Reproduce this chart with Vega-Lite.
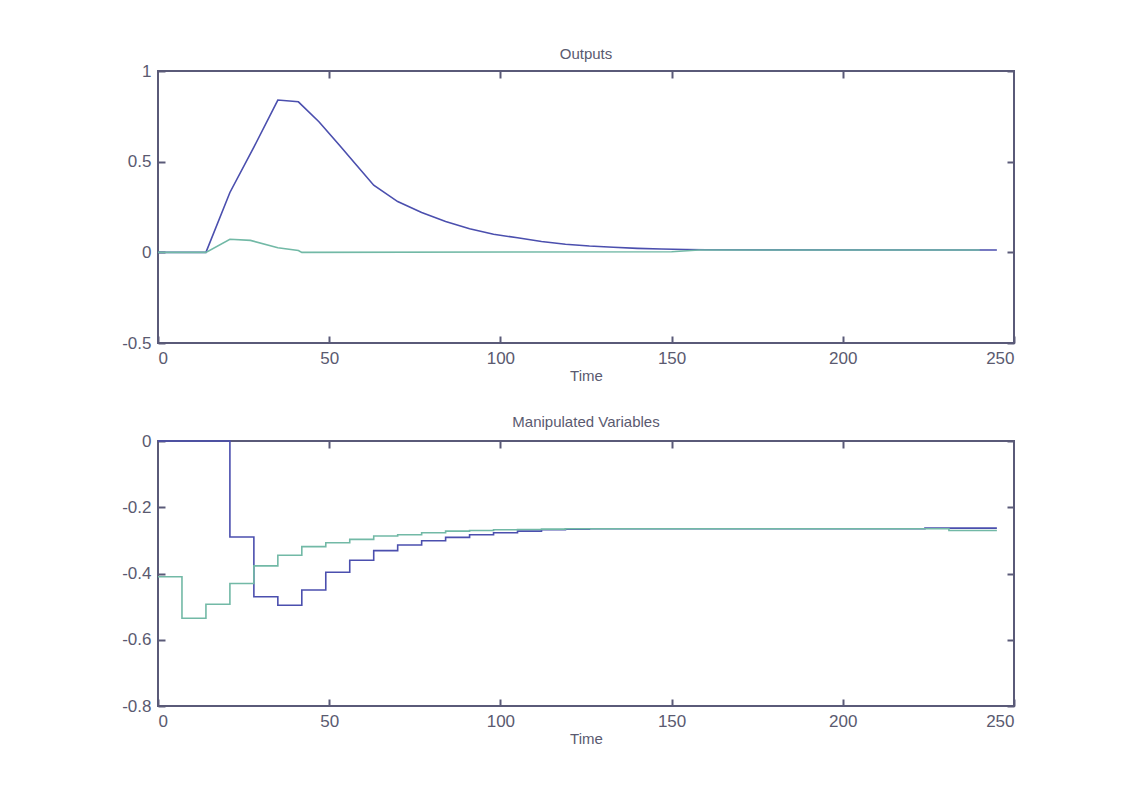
{
  "$schema": "https://vega.github.io/schema/vega-lite/v6.json",
  "background": "white",
  "padding": {"left": 120, "top": 46, "right": 20, "bottom": 20},
  "config": {
    "font": "Liberation Sans",
    "view": {"stroke": "#5a5a78", "strokeWidth": 2},
    "axis": {"grid": false, "domain": false, "tickColor": "#5a5a78", "tickWidth": 2, "tickSize": -7, "labelColor": "#5a5a70", "labelFontSize": 17, "labelPadding": 14, "titleColor": "#5a5a70", "titleFontSize": 15, "titleFontWeight": "normal"},
    "title": {"fontSize": 15, "fontWeight": "normal", "color": "#5a5a70"},
    "concat": {"spacing": 30}
  },
  "datasets": {
    "out": [
      {"s": "1", "t": 0, "v": 0}, {"s": "1", "t": 14, "v": 0}, {"s": "1", "t": 21, "v": 0.33}, {"s": "1", "t": 28, "v": 0.58}, {"s": "1", "t": 35, "v": 0.84}, {"s": "1", "t": 41, "v": 0.83}, {"s": "1", "t": 47, "v": 0.72}, {"s": "1", "t": 53, "v": 0.59}, {"s": "1", "t": 58, "v": 0.48}, {"s": "1", "t": 63, "v": 0.37}, {"s": "1", "t": 70, "v": 0.28}, {"s": "1", "t": 77, "v": 0.22}, {"s": "1", "t": 84, "v": 0.17}, {"s": "1", "t": 91, "v": 0.13}, {"s": "1", "t": 98, "v": 0.1}, {"s": "1", "t": 105, "v": 0.08}, {"s": "1", "t": 112, "v": 0.06}, {"s": "1", "t": 119, "v": 0.045}, {"s": "1", "t": 126, "v": 0.035}, {"s": "1", "t": 133, "v": 0.028}, {"s": "1", "t": 140, "v": 0.022}, {"s": "1", "t": 147, "v": 0.018}, {"s": "1", "t": 154, "v": 0.016}, {"s": "1", "t": 160, "v": 0.014}, {"s": "1", "t": 245, "v": 0.013},
      {"s": "2", "t": 0, "v": 0}, {"s": "2", "t": 14, "v": 0}, {"s": "2", "t": 21, "v": 0.072}, {"s": "2", "t": 27, "v": 0.066}, {"s": "2", "t": 35, "v": 0.025}, {"s": "2", "t": 41, "v": 0.01}, {"s": "2", "t": 42, "v": 0}, {"s": "2", "t": 150, "v": 0.003}, {"s": "2", "t": 158, "v": 0.013}, {"s": "2", "t": 240, "v": 0.013}
    ],
    "mv": [
      {"s": "1", "t": 0, "v": 0}, {"s": "1", "t": 21, "v": -0.29}, {"s": "1", "t": 28, "v": -0.47}, {"s": "1", "t": 35, "v": -0.496}, {"s": "1", "t": 42, "v": -0.45}, {"s": "1", "t": 49, "v": -0.396}, {"s": "1", "t": 56, "v": -0.36}, {"s": "1", "t": 63, "v": -0.331}, {"s": "1", "t": 70, "v": -0.314}, {"s": "1", "t": 77, "v": -0.301}, {"s": "1", "t": 84, "v": -0.291}, {"s": "1", "t": 91, "v": -0.283}, {"s": "1", "t": 98, "v": -0.277}, {"s": "1", "t": 105, "v": -0.272}, {"s": "1", "t": 112, "v": -0.268}, {"s": "1", "t": 119, "v": -0.266}, {"s": "1", "t": 126, "v": -0.265}, {"s": "1", "t": 224, "v": -0.263}, {"s": "1", "t": 245, "v": -0.263},
      {"s": "2", "t": 0, "v": -0.41}, {"s": "2", "t": 7, "v": -0.535}, {"s": "2", "t": 14, "v": -0.493}, {"s": "2", "t": 21, "v": -0.43}, {"s": "2", "t": 28, "v": -0.377}, {"s": "2", "t": 35, "v": -0.345}, {"s": "2", "t": 42, "v": -0.319}, {"s": "2", "t": 49, "v": -0.307}, {"s": "2", "t": 56, "v": -0.297}, {"s": "2", "t": 63, "v": -0.287}, {"s": "2", "t": 70, "v": -0.283}, {"s": "2", "t": 77, "v": -0.277}, {"s": "2", "t": 84, "v": -0.272}, {"s": "2", "t": 91, "v": -0.27}, {"s": "2", "t": 98, "v": -0.268}, {"s": "2", "t": 105, "v": -0.267}, {"s": "2", "t": 112, "v": -0.266}, {"s": "2", "t": 119, "v": -0.265}, {"s": "2", "t": 231, "v": -0.27}, {"s": "2", "t": 245, "v": -0.27}
    ]
  },
  "vconcat": [
    {
      "width": 856, "height": 272,
      "title": {"text": "Outputs", "offset": 0},
      "data": {"name": "out"},
      "layer": [
        {
          "mark": {"type": "line", "strokeWidth": 1.6},
          "encoding": {
            "x": {"field": "t", "type": "quantitative", "title": "Time", "scale": {"domain": [0, 250], "nice": false}, "axis": {"values": [0, 50, 100, 150, 200, 250], "titlePadding": 2}},
            "y": {"field": "v", "type": "quantitative", "title": null, "scale": {"domain": [-0.5, 1], "nice": false, "zero": false}, "axis": {"values": [-0.5, 0, 0.5, 1], "labelExpr": "datum.value + ''"}},
            "color": {"field": "s", "type": "nominal", "legend": null, "scale": {"domain": ["1", "2"], "range": ["#4b4fae", "#72b9a6"]}},
            "order": {"field": "t"}
          }
        },
        {
          "mark": {"type": "line", "opacity": 0},
          "encoding": {
            "x": {"field": "t", "type": "quantitative", "axis": {"orient": "top", "values": [50, 100, 150, 200], "labels": false, "title": null}},
            "y": {"field": "v", "type": "quantitative", "axis": {"orient": "right", "values": [-0.5, 0, 0.5, 1], "labels": false, "title": null}}
          }
        }
      ],
      "resolve": {"axis": {"x": "independent", "y": "independent"}}
    },
    {
      "width": 856, "height": 265,
      "title": {"text": "Manipulated Variables", "offset": 2},
      "data": {"name": "mv"},
      "layer": [
        {
          "mark": {"type": "line", "strokeWidth": 1.6, "interpolate": "step-after"},
          "encoding": {
            "x": {"field": "t", "type": "quantitative", "title": "Time", "scale": {"domain": [0, 250], "nice": false}, "axis": {"values": [0, 50, 100, 150, 200, 250], "titlePadding": 2}},
            "y": {"field": "v", "type": "quantitative", "title": null, "scale": {"domain": [-0.8, 0], "nice": false, "zero": false}, "axis": {"values": [-0.8, -0.6, -0.4, -0.2, 0], "labelExpr": "datum.value + ''"}},
            "color": {"field": "s", "type": "nominal", "legend": null, "scale": {"domain": ["1", "2"], "range": ["#4b4fae", "#72b9a6"]}},
            "order": {"field": "t"}
          }
        },
        {
          "mark": {"type": "line", "opacity": 0},
          "encoding": {
            "x": {"field": "t", "type": "quantitative", "axis": {"orient": "top", "values": [50, 100, 150, 200], "labels": false, "title": null}},
            "y": {"field": "v", "type": "quantitative", "axis": {"orient": "right", "values": [-0.8, -0.6, -0.4, -0.2, 0], "labels": false, "title": null}}
          }
        }
      ],
      "resolve": {"axis": {"x": "independent", "y": "independent"}}
    }
  ]
}
